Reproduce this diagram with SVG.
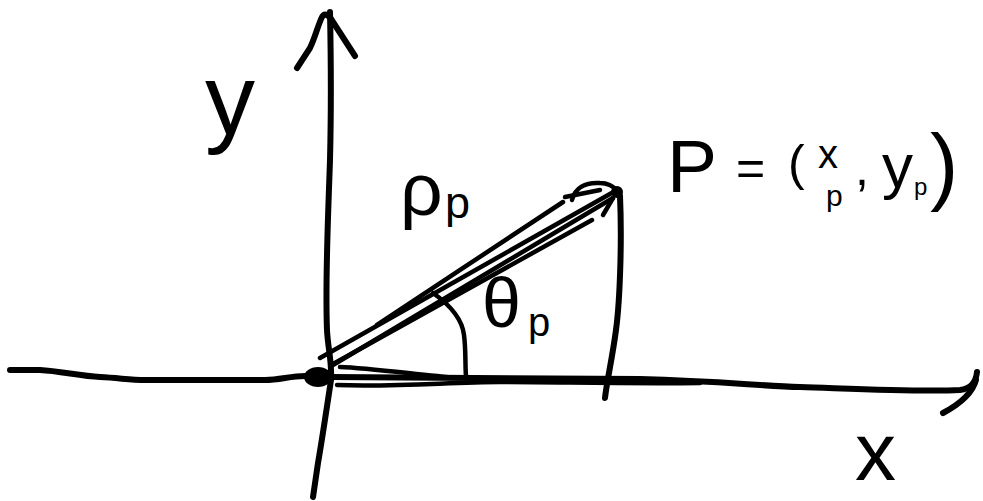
<svg xmlns="http://www.w3.org/2000/svg" width="983" height="501" viewBox="0 0 983 501">
<style>
.pen{fill:none;stroke:#000;stroke-width:6;stroke-linecap:round;stroke-linejoin:round}
.thin{fill:none;stroke:#000;stroke-width:4.5;stroke-linecap:round;stroke-linejoin:round}
.lbl{font-family:"Liberation Sans",Arial,sans-serif;fill:#000}
</style>
<rect width="983" height="501" fill="#fff"/>
<g id="x-axis">
<path class="pen" d="M10,370 L40,370 C60,371 80,376 100,377 C120,378 130,380 145,380 L265,380 C280,380 290,376 305,376"/>
<path class="pen" d="M330,377 L640,379 C720,381 760,386 800,387 C860,389 920,392 960,390 C970,389 976,382 977,372"/>
<path class="pen" d="M976,380 C972,395 958,405 943,413"/>
</g>
<g id="y-axis">
<path class="pen" d="M330,12 C331,60 331,120 330,160 C328,220 325,280 327,330 C328,350 332,360 331,380 C328,400 322,440 318,463 L313,497"/>
<path class="pen" d="M297,68 L310,48 C315,38 318,25 322,17 C325,12 330,16 333,22 L355,56"/>
</g>
<g id="origin">
<ellipse cx="318" cy="377" rx="14" ry="10" fill="#000"/>
</g>
<g id="vector">
<path class="thin" d="M377,325 C430,290 520,230 563,202"/>
<path class="thin" d="M320,358 L617,190"/>
<path class="thin" d="M333,365 L613,198"/>
<path class="thin" d="M333,364 L592,220"/>
<path class="thin" d="M565,197 L600,190"/>
<path class="thin" d="M603,215 L613,198"/>
<path class="thin" d="M572,200 C575,188 585,182 600,183 C608,183 612,186 617,190"/>
<circle cx="617" cy="192" r="6" fill="#000"/>
<path class="pen" d="M620,196 C622,240 620,300 616,330 C612,360 607,380 605,398"/>
<path class="thin" d="M340,367 C370,368 420,375 457,378"/>
<path class="thin" d="M337,385 C400,387 450,382 500,382 C560,382 620,384 700,383"/>
<path class="thin" d="M433,293 C450,305 462,318 464,335 C466,350 465,365 466,376"/>
</g>
<g id="labels">
<text class="lbl" x="205" y="134" font-size="100">y</text>
<text class="lbl" x="855" y="480" font-size="82">x</text>
<text class="lbl" x="400" y="215" font-size="75">ρ<tspan x="445" y="218" font-size="45">p</tspan></text>
<text class="lbl" x="482" y="327" font-size="70">θ<tspan x="528" y="336" font-size="40">p</tspan></text>
<text class="lbl" x="667" y="192" font-size="75">P<tspan x="736" y="185" font-size="50">=</tspan><tspan x="788" y="180" font-size="50">(</tspan><tspan x="818" y="168" font-size="40">x</tspan><tspan x="826" y="206" font-size="30">p</tspan><tspan x="855" y="185" font-size="50">,</tspan><tspan x="882" y="187" font-size="62">y</tspan><tspan x="914" y="195" font-size="24">p</tspan><tspan x="930" y="194" font-size="85">)</tspan></text>
</g>
</svg>
